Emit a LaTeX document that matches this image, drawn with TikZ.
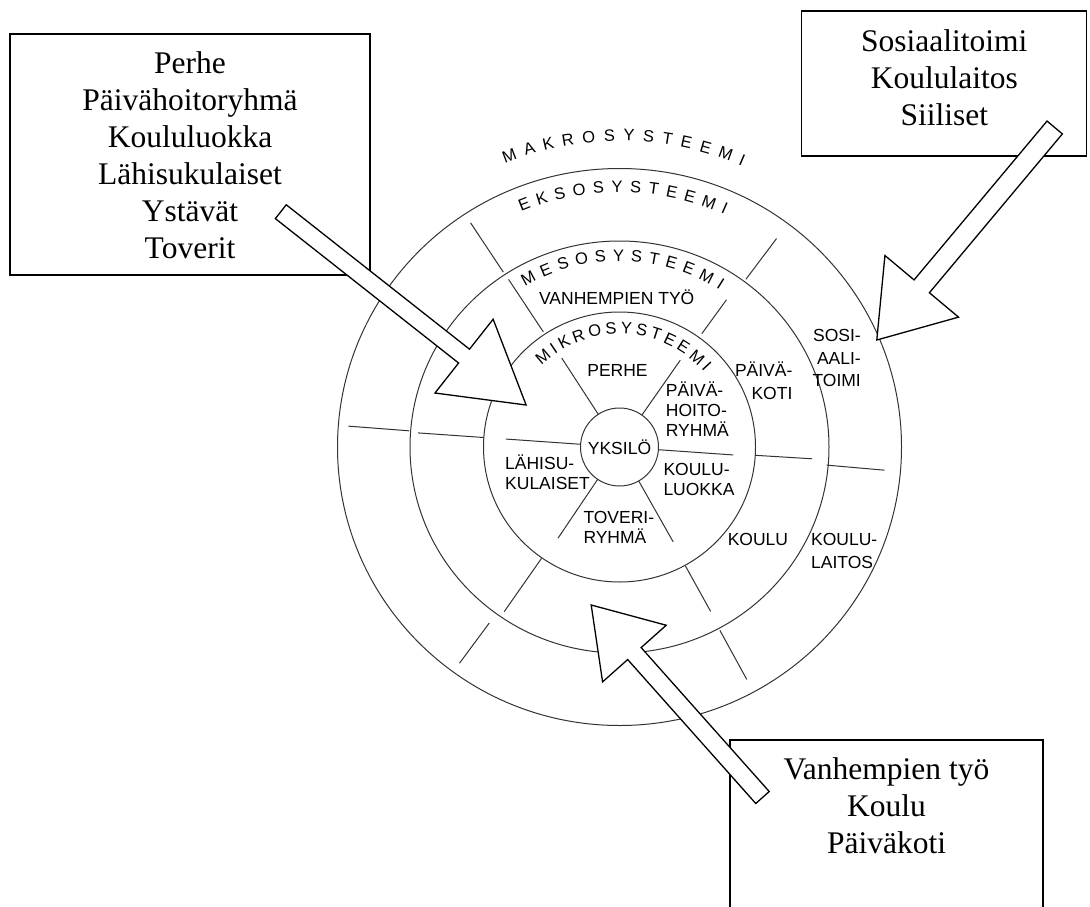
\documentclass[tikz,border=0pt]{standalone}
\usepackage{fontspec}
\setmainfont{Liberation Serif}
\setsansfont{Liberation Sans}
\usetikzlibrary{calc,positioning,decorations.text}

\newcommand{\ringfont}{\sffamily\fontsize{17.5}{20}\selectfont}
\newcommand{\arcfont}{\sffamily\fontsize{16.5}{20}\selectfont}
\tikzstyle{ring}=[draw=black!80,line width=1pt]
\tikzstyle{spoke}=[draw=black!80,line width=1pt]
\tikzstyle{lab}=[font=\ringfont,inner sep=0pt]
\tikzstyle{box}=[draw,line width=1.3pt,rectangle]
\tikzstyle{boxtext}=[font=\fontsize{31.5}{37}\selectfont,align=center,inner sep=0pt]
\tikzstyle{barrow}=[draw,line width=1.3pt,fill=white,line join=miter]
\tikzstyle{arclab}=[decorate,decoration={text along path,text align={fit to path}}]

% tail, tip, half shaft, head length, half head
\newcommand{\blockarrow}[5]{%
  \coordinate (hb) at ($(#2)!#4!(#1)$);
  \draw[barrow] ($(#1)!#3!90:(#2)$) -- ($(hb)!#3!90:(#2)$) -- ($(hb)!#5!90:(#2)$) -- (#2)
    -- ($(hb)!#5!-90:(#2)$) -- ($(hb)!#3!-90:(#2)$) -- ($(#1)!#3!-90:(#2)$) -- cycle;
}

\begin{document}
\begin{tikzpicture}[x=1pt,y=1pt]
\useasboundingbox (0,0) rectangle (1090,-907);
\coordinate (c) at (619.5,-447);

% rings
\draw[ring] (c) ellipse[x radius=282,y radius=278.5];
\draw[ring] (c) ellipse[x radius=209.5,y radius=206];
\draw[ring] (c) ellipse[x radius=136,y radius=135];
\node[circle,draw=black!80,line width=1pt,minimum size=78pt,inner sep=0pt,font=\ringfont] (yksilo) at (c) {YKSIL\"O};

% spokes: angle/from/to
\foreach \a/\ra/\rb in {123/39/106,55/39/106,176/39/114,-4/39/114,236/39/110,-60.5/39/109,
    123.5/138/201,54/140/182,176/136/202,-3.5/136/193,235/136/201,-61/136/188,
    123.6/210/269,53/210/261,175.6/211/272,-5/208/266,233.5/219/269,-61.3/209/265}
  \draw[spoke] ($(c)+(\a:\ra)$) -- ($(c)+(\a:\rb)$);

% curved titles
\path[arclab,decoration={text={|\arcfont|MAKROSYSTEEMI}}] ($(c)+(112:306)$) arc[start angle=112,end angle=66.4,radius=306];
\path[arclab,decoration={text={|\arcfont|EKSOSYSTEEMI}}] ($(c)+(112.7:255)$) arc[start angle=112.7,end angle=65.7,radius=255];
\path[arclab,decoration={text={|\arcfont|MESOSYSTEEMI}}] ($(c)+(120.6:186)$) arc[start angle=120.6,end angle=57.4,radius=186];
\path[arclab,decoration={text={|\arcfont|MIKROSYSTEEMI}}] ($(c)+(133.7:113)$) arc[start angle=133.7,end angle=41.5,radius=113];

% ring labels
\node[lab,anchor=base] (vtyo) at (616.7,-304) {VANHEMPIEN TY\"O};
\node[lab,anchor=base] (perhe) at (617.5,-376) {PERHE};
\node[lab,anchor=north west,align=left] (phr) at (665.7,-382) {P\"AIV\"A-\\HOITO-\\RYHM\"A};
\node[lab,anchor=north west,align=left] (lahi) at (505,-454.3) {L\"AHISU-\\KULAISET};
\node[lab,anchor=north west,align=left] (kluok) at (663.3,-462.7) {KOULU-\\LUOKKA};
\node[lab,anchor=north west,align=left] (tov) at (583.3,-511) {TOVERI-\\RYHM\"A};
\node[lab,anchor=north east,align=right] (pkoti) at (792.6,-361.7) {P\"AIV\"A-\\[3pt]KOTI};
\node[lab,anchor=north east,align=right] (sosi) at (861,-329.4) {SOSI-\\[2.5pt]AALI-\\[2.5pt]TOIMI};
\node[lab,anchor=base] (koulu) at (757.9,-545) {KOULU};
\node[lab,anchor=north west,align=left] (klait) at (811,-532.7) {KOULU-\\[3pt]LAITOS};

% boxes
\node[box,minimum width=360pt,minimum height=241pt] (mikrobox) at (190,-154.5) {};
\node[boxtext,below=17.8pt of mikrobox.north] (mikrotext) {Perhe\\P\"aiv\"ahoitoryhm\"a\\Koululuokka\\L\"ahisukulaiset\\Yst\"av\"at\\Toverit};
\node[box,minimum width=285pt,minimum height=145pt] (eksobox) at (944.3,-83.5) {};
\node[boxtext,below=19.2pt of eksobox.north] (eksotext) {Sosiaalitoimi\\Koululaitos\\Siiliset};
\node[box,minimum width=313pt,minimum height=180pt] (mesobox) at (886.5,-830) {};
\node[boxtext,below=17.8pt of mesobox.north] (mesotext) {Vanhempien ty\"o\\Koulu\\P\"aiv\"akoti};

% arrows
\coordinate (a1) at (280.8,-211.7);
\coordinate (t1) at (526.1,-405);
\coordinate (a2) at (1054.7,-127.5);
\coordinate (t2) at (876.8,-340);
\coordinate (a3) at (762.5,-797.5);
\coordinate (t3) at (591.2,-605);
\blockarrow{a1}{t1}{8.8pt}{79pt}{47pt}
\blockarrow{a2}{t2}{10pt}{70pt}{48pt}
\blockarrow{a3}{t3}{9pt}{65pt}{42.6pt}
\end{tikzpicture}
\end{document}
